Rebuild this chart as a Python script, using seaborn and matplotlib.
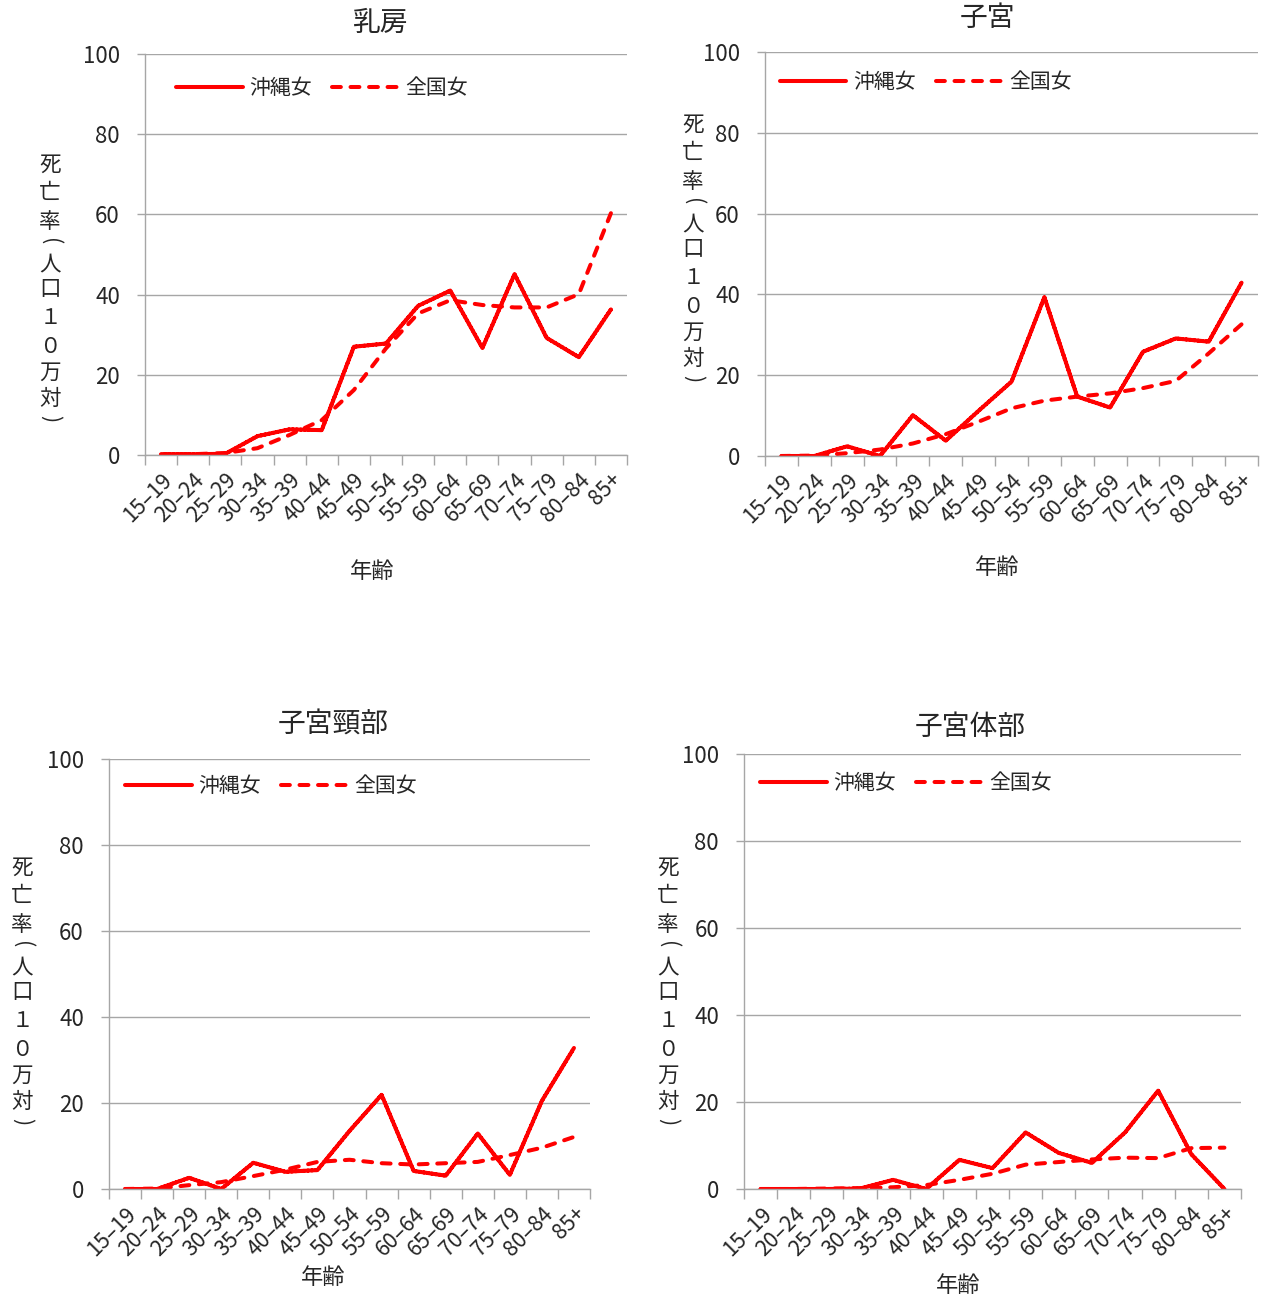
import numpy as np
import pandas as pd
import matplotlib
matplotlib.use("Agg")
import matplotlib.pyplot as plt
import seaborn as sns

sns.set_theme(style="white")
plt.rcParams['font.family'] = ['Noto Sans CJK JP', 'DejaVu Sans']

age_groups = ["15–19", "20–24", "25–29", "30–34", "35–39", "40–44", "45–49",
              "50–54", "55–59", "60–64", "65–69", "70–74", "75–79", "80–84", "85+"]

titles = ["乳房", "子宮", "子宮頸部", "子宮体部"]
series_names = ["沖縄女", "全国女"]

breast_okinawa = [0.2, 0.2, 0.3, 4.7, 6.4, 6.2, 27.0, 27.8, 37.2, 41.0, 26.7, 45.1, 29.2, 24.4, 36.3]
breast_national = [0.1, 0.2, 0.5, 1.7, 5.0, 8.7, 16.2, 26.6, 35.3, 38.6, 37.4, 36.8, 36.8, 40.1, 60.3]

uterus_okinawa = [0.0, 0.0, 2.4, 0.0, 10.1, 3.8, 11.2, 18.4, 39.3, 14.7, 12.0, 25.8, 29.1, 28.3, 42.9]
uterus_national = [0.0, 0.1, 0.7, 1.6, 3.1, 5.4, 8.5, 11.8, 13.7, 14.7, 15.5, 16.8, 18.6, 25.4, 32.6]

cervix_okinawa = [0.0, 0.0, 2.6, 0.0, 6.1, 4.0, 4.4, 13.5, 21.9, 4.2, 3.1, 12.9, 3.3, 20.5, 32.8]
cervix_national = [0.0, 0.1, 0.9, 1.6, 3.0, 4.5, 6.3, 6.8, 6.0, 5.7, 6.0, 6.3, 7.9, 9.6, 12.1]

corpus_okinawa = [0.0, 0.0, 0.0, 0.1, 2.1, 0.0, 6.7, 4.8, 13.0, 8.3, 6.0, 13.0, 22.6, 8.0, 0.0]
corpus_national = [0.0, 0.0, 0.1, 0.2, 0.4, 0.9, 2.1, 3.5, 5.6, 6.2, 6.8, 7.2, 7.1, 9.4, 9.5]

yticks = [0, 20, 40, 60, 80, 100]
ylabel_chars = list("死亡率(人口１０万対)")
xlabel = "年齢"

panels = [
    (breast_okinawa, breast_national),
    (uterus_okinawa, uterus_national),
    (cervix_okinawa, cervix_national),
    (corpus_okinawa, corpus_national),
]

W, H = 1269, 1299
# axes boxes in pixels: left, right, top, bottom
boxes = [(145, 627, 54, 455), (765, 1258, 52, 456), (109, 590, 759, 1189), (744, 1241, 754, 1189)]
title_pos = [(381, 23), (987, 18), (333, 725), (970, 727)]
xlabel_pos = [(372, 572), (997, 568), (323, 1277), (958, 1285)]
ylabel_start = [(50, 165), (693, 125), (22, 868), (668, 868)]
ylabel_offsets = [0, 28, 57, 77, 99, 124, 153, 182, 208, 234, 254]
legend_anchor = [(0.064, 0.943), (0.030, 0.953), (0.033, 0.962), (0.032, 0.958)]

fig = plt.figure(figsize=(W / 100, H / 100), dpi=100)
red = "#FF0000"
grid_c = "#A6A6A6"

for i, ((ok, nat), box) in enumerate(zip(panels, boxes)):
    l, r, t, b = box
    ax = fig.add_axes([l / W, 1 - b / H, (r - l) / W, (b - t) / H])
    x = np.arange(len(age_groups))
    df = pd.DataFrame({"x": np.concatenate([x, x]),
                       "y": ok + nat,
                       "s": [series_names[0]] * len(x) + [series_names[1]] * len(x)})
    sns.lineplot(data=df, x="x", y="y", hue="s", style="s",
                 palette=[red, red], dashes=[(1, 0), (2.2, 2.4)],
                 linewidth=2.9, ax=ax, legend=True)
    for ln in ax.get_lines():
        ln.set_dash_capstyle("round")
        ln.set_solid_capstyle("butt")
        ln.set_solid_joinstyle("miter")
    ax.set_xlim(-0.5, len(age_groups) - 0.5)
    ax.set_ylim(0, 100)
    ax.set_yticks(yticks)
    ax.set_yticklabels([str(v) for v in yticks], fontsize=16)
    ax.set_xticks(x)
    ax.set_xticklabels(age_groups, rotation=45, ha="right", rotation_mode="anchor", fontsize=15.5)
    ax.set_xticks(np.arange(-0.5, len(age_groups), 1.0), minor=True)
    ax.tick_params(axis="x", which="major", length=0, pad=10)
    ax.tick_params(axis="x", which="minor", length=7, color=grid_c, width=1, direction="out", bottom=True)
    ax.tick_params(axis="y", which="major", length=6, color=grid_c, width=1, direction="out", left=True, pad=12)
    ax.yaxis.grid(True, color=grid_c, linewidth=1)
    ax.xaxis.grid(False)
    ax.set_axisbelow(True)
    for s in ["top", "right"]:
        ax.spines[s].set_visible(False)
    for s in ["left", "bottom"]:
        ax.spines[s].set_color(grid_c)
        ax.spines[s].set_linewidth(1)
    ax.set_xlabel("")
    ax.set_ylabel("")
    handles, labels = ax.get_legend_handles_labels()
    for h in handles:
        h.set_dash_capstyle("round")
    ax.legend(handles, labels, loc="upper left", bbox_to_anchor=legend_anchor[i],
              ncol=2, frameon=False, fontsize=15, handlelength=3.2, handletextpad=0.3,
              columnspacing=1.0, borderpad=0, borderaxespad=0)
    tx, ty = title_pos[i]
    fig.text(tx / W, 1 - ty / H, titles[i], ha="center", va="center", fontsize=20)
    xx, xy = xlabel_pos[i]
    fig.text(xx / W, 1 - xy / H, xlabel, ha="center", va="center", fontsize=16)
    yx, yy = ylabel_start[i]
    for ch, off in zip(ylabel_chars, ylabel_offsets):
        rot = -90 if ch in "()" else 0
        fig.text(yx / W, 1 - (yy + off) / H, ch, ha="center", va="center",
                 fontsize=15.5, rotation=rot, rotation_mode="default")

fig.savefig("out.png", dpi=100, facecolor="white")
